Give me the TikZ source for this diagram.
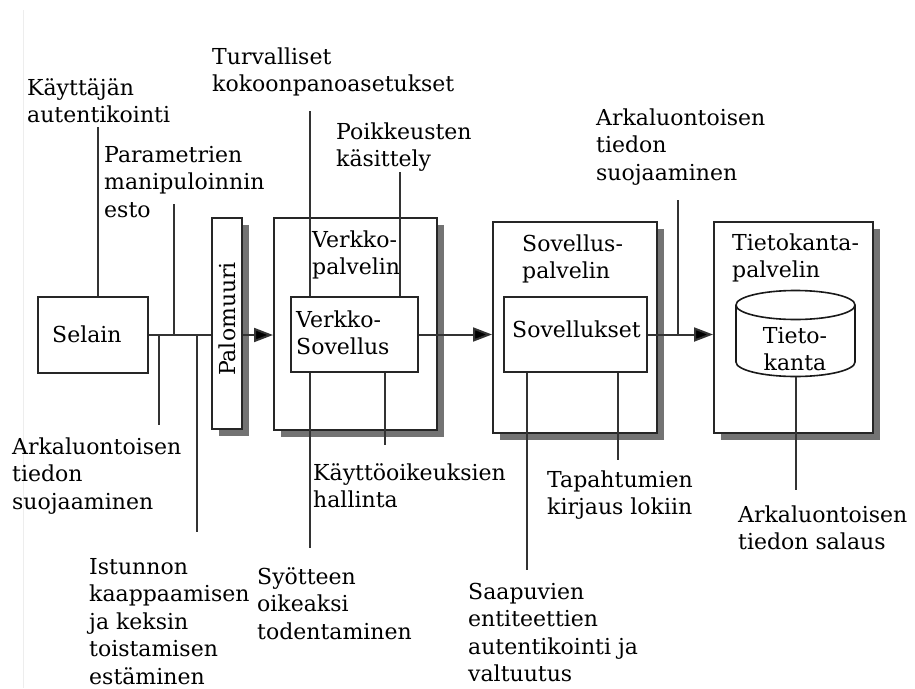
\documentclass[tikz,border=0pt]{standalone}
\usepackage{fontspec}
\setmainfont{DejaVu Serif}
\usetikzlibrary{shadows,arrows.meta}
\newcommand{\ml}[1]{\begin{tabular}[t]{@{}l@{}}#1\end{tabular}}
\begin{document}
\begin{tikzpicture}[x=1pt,y=-1pt,
  lbl/.style={anchor=base west, inner sep=0pt, font=\fontsize{22}{27.5}\selectfont, text=black},
  boxs/.style={draw=black!85, line width=2pt, fill=white, inner sep=0pt},
  shad/.style={drop shadow={shadow xshift=7pt, shadow yshift=-7pt, fill=black!55, opacity=1}},
  conn/.style={draw=black!80, line width=2pt},
  arr/.style={conn, -{Triangle[length=19pt,width=14pt,fill=black]}},
  cyl/.style={draw=black!90, line width=1.6pt, fill=white}
]
\useasboundingbox (0,0) rectangle (915,688);
\fill[white] (0,0) rectangle (915,688);
\draw[black!7, line width=1pt] (23,10) -- (23,688);

% boxes
\node[boxs, minimum width=110pt, minimum height=76pt] (sel) at (93,335) {};
\node[boxs, shad, minimum width=30pt, minimum height=211pt] (pal) at (227,323.5) {};
\node[boxs, shad, minimum width=163pt, minimum height=212pt] (vp) at (355.5,324) {};
\node[boxs, minimum width=127pt, minimum height=75pt] (vs) at (354.5,334.5) {};
\node[boxs, shad, minimum width=164pt, minimum height=211pt] (sp) at (575,327.5) {};
\node[boxs, minimum width=143pt, minimum height=75pt] (so) at (575.5,334.5) {};
\node[boxs, shad, minimum width=159pt, minimum height=211pt] (tp) at (793.5,327.5) {};

% database cylinder
\filldraw[cyl] (736,305) -- (736,362) arc[start angle=180, end angle=0, x radius=59.5, y radius=14.5] -- (855,305);
\filldraw[cyl] (795.5,305) ellipse[x radius=59.5, y radius=14.5];
\coordinate (dbb) at (795.5,376.5);

% box texts
\node[lbl] (t-sel) at (52,342) {Selain};
\node[lbl, rotate=90, anchor=center] (t-pal) at (227,319) {Palomuuri};
\node[lbl] (t-vp) at (312,247) {\ml{Verkko-\\palvelin}};
\node[lbl] (t-vs) at (296,327) {\ml{Verkko-\\Sovellus}};
\node[lbl] (t-sp) at (522,251) {\ml{Sovellus-\\palvelin}};
\node[lbl] (t-so) at (512,337) {Sovellukset};
\node[lbl] (t-tp) at (732,250) {\ml{Tietokanta-\\palvelin}};
\node[lbl, anchor=base] (t-db) at (795,343) {\begin{tabular}[t]{@{}c@{}}Tieto-\\kanta\end{tabular}};

% connector end points
\coordinate (c-kay) at (98,127);
\coordinate (c-par) at (174,204);
\coordinate (c-ark2) at (159,425);
\coordinate (c-ist) at (197,532);
\coordinate (c-tur) at (310,111);
\coordinate (c-poi) at (400,172);
\coordinate (c-kao) at (385,445);
\coordinate (c-syo) at (310,548);
\coordinate (c-saa) at (527,570);
\coordinate (c-tap) at (618,460);
\coordinate (c-ark1) at (678,200);
\coordinate (c-ark3) at (795.5,490);

% connectors
\draw[conn] (c-kay) -- (c-kay |- sel.north);
\draw[conn] (sel.east) -- (sel.east -| pal.west);
\draw[conn] (c-par) -- (c-par |- sel.east);
\draw[conn] (c-ark2 |- sel.east) -- (c-ark2);
\draw[conn] (c-ist |- sel.east) -- (c-ist);
\draw[arr] (pal.east |- sel.east) -- (vp.west |- sel.east);
\draw[conn] (c-tur) -- (c-tur |- vs.north);
\draw[conn] (c-poi) -- (c-poi |- vs.north);
\draw[conn] (c-kao |- vs.south) -- (c-kao);
\draw[conn] (c-syo |- vs.south) -- (c-syo);
\draw[arr] (vs.east) -- (vs.east -| sp.west);
\draw[conn] (c-saa |- so.south) -- (c-saa);
\draw[conn] (c-tap |- so.south) -- (c-tap);
\draw[arr] (so.east) -- (so.east -| tp.west);
\draw[conn] (c-ark1) -- (c-ark1 |- so.east);
\draw[conn] (dbb) -- (c-ark3);

% labels
\node[lbl] (l-kay) at (27,95) {\ml{Käyttäjän\\autentikointi}};
\node[lbl] (l-tur) at (212,64) {\ml{Turvalliset\\kokoonpanoasetukset}};
\node[lbl] (l-par) at (104,162) {\ml{Parametrien\\manipuloinnin\\esto}};
\node[lbl] (l-poi) at (336,139) {\ml{Poikkeusten\\käsittely}};
\node[lbl] (l-ark1) at (596,125) {\ml{Arkaluontoisen\\tiedon\\suojaaminen}};
\node[lbl] (l-ark2) at (12,454) {\ml{Arkaluontoisen\\tiedon\\suojaaminen}};
\node[lbl] (l-ist) at (89,574) {\ml{Istunnon\\kaappaamisen\\ja keksin\\toistamisen\\estäminen}};
\node[lbl] (l-syo) at (257,584) {\ml{Syötteen\\oikeaksi\\todentaminen}};
\node[lbl] (l-kao) at (313,480) {\ml{Käyttöoikeuksien\\hallinta}};
\node[lbl] (l-tap) at (547,487) {\ml{Tapahtumien\\kirjaus lokiin}};
\node[lbl] (l-ark3) at (738,522) {\ml{Arkaluontoisen\\tiedon salaus}};
\node[lbl] (l-saa) at (468,599) {\ml{Saapuvien\\entiteettien\\autentikointi ja\\valtuutus}};
\end{tikzpicture}
\end{document}
